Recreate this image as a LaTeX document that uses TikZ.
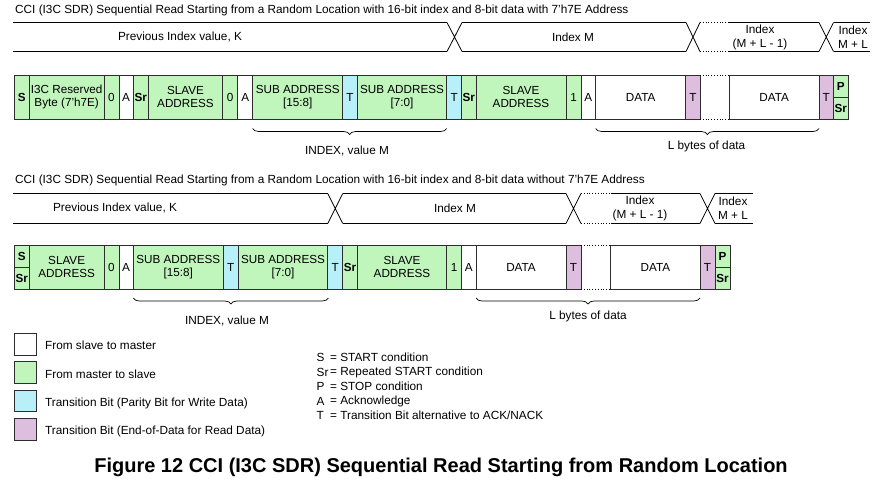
\documentclass[tikz,border=0pt]{standalone}
\usepackage{fontspec}
\setmainfont{Liberation Sans}
\usetikzlibrary{decorations.pathreplacing}
\definecolor{mgreen}{RGB}{192,245,188}
\definecolor{tcyan}{RGB}{183,240,248}
\definecolor{tpink}{RGB}{222,190,222}
\definecolor{edge}{RGB}{45,45,45}
\tikzset{
  cellline/.style={draw=edge,line width=0.8pt},
  celltext/.style={inner sep=0pt,align=center,font=\fontsize{11.7}{13.3}\selectfont},
  boldtext/.style={celltext,font=\fontsize{11.7}{13.3}\selectfont\bfseries},
  barline/.style={draw=black,line width=0.8pt},
  bardot/.style={draw=black,line width=0.8pt,dotted},
  bartext/.style={inner sep=0pt,align=center,font=\fontsize{11.8}{14.2}\selectfont},
  plain/.style={inner sep=0pt,font=\fontsize{11.8}{13}\selectfont},
  bracestyle/.style={draw=black,line width=0.7pt,decorate,decoration={brace,amplitude=6pt}},
  legbox/.style={draw=edge,line width=0.8pt},
}
\newcommand\pcell[7]{%
  \draw[cellline,fill=#6] (#2,#4) rectangle (#3,#5);
  \node[celltext] (#1) at ({(#2+#3)/2},{(#4+#5)/2}) {#7};}
\newcommand\bcell[7]{%
  \draw[cellline,fill=#6] (#2,#4) rectangle (#3,#5);
  \node[boldtext] (#1) at ({(#2+#3)/2},{(#4+#5)/2}) {#7};}
\newcommand\xcross[4]{%
  \draw[barline] (#1,#3) -- (#2,#4) (#1,#4) -- (#2,#3);}
\newcommand\bseg[5]{%
  \draw[#5] (#1,#3) -- (#2,#3) (#1,#4) -- (#2,#4);}
\begin{document}
\begin{tikzpicture}[x=1pt,y=-1pt]
\fill[white] (0,0) rectangle (886,488);
\useasboundingbox (0,0) rectangle (886,488);

% ---------- first diagram ----------
\node[plain,anchor=west] (title1) at (15,10) {CCI (I3C SDR) Sequential Read Starting from a Random Location with 16-bit index and 8-bit data with 7'h7E Address};

\bseg{13}{447}{22.5}{51.5}{barline}
\xcross{447}{462}{22.5}{51.5}
\bseg{462}{686}{22.5}{51.5}{barline}
\xcross{686}{700}{22.5}{51.5}
\bseg{700}{729}{22.5}{51.5}{bardot}
\bseg{729}{819}{22.5}{51.5}{barline}
\xcross{819}{833.5}{22.5}{51.5}
\bseg{833.5}{870}{22.5}{51.5}{barline}
\node[bartext] (k1) at (180,37) {Previous Index value, K};
\node[bartext] (m1) at (573,37) {Index M};
\node[bartext] (ml1) at (760,37.5) {Index\\(M + L - 1)};
\node[bartext] (mlp1) at (853,37.5) {Index\\M + L};

\bcell{s1}{14.3}{29.3}{75}{119.3}{mgreen}{S}
\pcell{rsv1}{29.3}{104}{75}{119.3}{mgreen}{I3C Reserved\\Byte (7'h7E)}
\pcell{z1a}{104}{119}{75}{119.3}{mgreen}{0}
\pcell{a1a}{119}{133.3}{75}{119.3}{white}{A}
\bcell{sr1a}{133.3}{148.3}{75}{119.3}{mgreen}{Sr}
\pcell{sa1a}{148.3}{222.7}{75}{119.3}{mgreen}{SLAVE\\ADDRESS}
\pcell{z1b}{222.7}{237.7}{75}{119.3}{mgreen}{0}
\pcell{a1b}{237.7}{252.7}{75}{119.3}{white}{A}
\pcell{sub1a}{252.7}{342.7}{75}{119.3}{mgreen}{SUB ADDRESS\\{}[15:8]}
\pcell{t1a}{342.7}{357.3}{75}{119.3}{tcyan}{T}
\pcell{sub1b}{357.3}{446.7}{75}{119.3}{mgreen}{SUB ADDRESS\\{}[7:0]}
\pcell{t1b}{446.7}{461.7}{75}{119.3}{tcyan}{T}
\bcell{sr1b}{461.7}{476}{75}{119.3}{mgreen}{Sr}
\pcell{sa1b}{476}{566}{75}{119.3}{mgreen}{SLAVE\\ADDRESS}
\pcell{one1}{566}{581}{75}{119.3}{mgreen}{1}
\pcell{a1c}{581}{595.7}{75}{119.3}{white}{A}
\pcell{d1a}{595.7}{685.7}{75}{119.3}{white}{DATA}
\pcell{t1c}{685.7}{700}{75}{119.3}{tpink}{T}
\draw[bardot] (700,75) -- (729.3,75) (700,119.3) -- (729.3,119.3);
\pcell{d1b}{729.3}{819}{75}{119.3}{white}{DATA}
\pcell{t1d}{819}{833.3}{75}{119.3}{tpink}{T}
\bcell{p1}{833.3}{848.3}{75}{97.2}{mgreen}{P}
\bcell{sr1c}{833.3}{848.3}{97.2}{119.3}{mgreen}{Sr}

\draw[bracestyle] (446.7,128.5) -- (252.7,128.5);
\node[plain] (idx1) at (347,150.5) {INDEX, value M};
\draw[bracestyle] (819,128.5) -- (595.7,128.5);
\node[plain] (lb1) at (706.5,146) {L bytes of data};

% ---------- second diagram ----------
\node[plain,anchor=west] (title2) at (15,180) {CCI (I3C SDR) Sequential Read Starting from a Random Location with 16-bit index and 8-bit data without 7'h7E Address};

\bseg{13}{327.7}{193.5}{223.5}{barline}
\xcross{327.7}{342.7}{193.5}{223.5}
\bseg{342.7}{566}{193.5}{223.5}{barline}
\xcross{566}{581}{193.5}{223.5}
\bseg{581}{610.7}{193.5}{223.5}{bardot}
\bseg{610.7}{700}{193.5}{223.5}{barline}
\xcross{700}{715}{193.5}{223.5}
\bseg{715}{753}{193.5}{223.5}{barline}
\node[bartext] (k2) at (115,208) {Previous Index value, K};
\node[bartext] (m2) at (455,208) {Index M};
\node[bartext] (ml2) at (640,208.5) {Index\\(M + L - 1)};
\node[bartext] (mlp2) at (733,208.5) {Index\\M + L};

\bcell{s2}{14.3}{29.3}{245}{267}{mgreen}{S}
\bcell{sr2a}{14.3}{29.3}{267}{289.3}{mgreen}{Sr}
\pcell{sa2a}{29.3}{104}{245}{289.3}{mgreen}{SLAVE\\ADDRESS}
\pcell{z2}{104}{119}{245}{289.3}{mgreen}{0}
\pcell{a2a}{119}{133.3}{245}{289.3}{white}{A}
\pcell{sub2a}{133.3}{223.3}{245}{289.3}{mgreen}{SUB ADDRESS\\{}[15:8]}
\pcell{t2a}{223.3}{238.3}{245}{289.3}{tcyan}{T}
\pcell{sub2b}{238.3}{327.7}{245}{289.3}{mgreen}{SUB ADDRESS\\{}[7:0]}
\pcell{t2b}{327.7}{342.7}{245}{289.3}{tcyan}{T}
\bcell{sr2b}{342.7}{357.3}{245}{289.3}{mgreen}{Sr}
\pcell{sa2b}{357.3}{446.7}{245}{289.3}{mgreen}{SLAVE\\ADDRESS}
\pcell{one2}{446.7}{461.7}{245}{289.3}{mgreen}{1}
\pcell{a2b}{461.7}{476}{245}{289.3}{white}{A}
\pcell{d2a}{476}{566}{245}{289.3}{white}{DATA}
\pcell{t2c}{566}{581}{245}{289.3}{tpink}{T}
\draw[bardot] (581,245) -- (610.7,245) (581,289.3) -- (610.7,289.3);
\pcell{d2b}{610.7}{700}{245}{289.3}{white}{DATA}
\pcell{t2d}{700}{715}{245}{289.3}{tpink}{T}
\bcell{p2}{715}{730}{245}{267}{mgreen}{P}
\bcell{sr2c}{715}{730}{267}{289.3}{mgreen}{Sr}

\draw[bracestyle] (328.3,298) -- (133.3,298);
\node[plain] (idx2) at (227,320.5) {INDEX, value M};
\draw[bracestyle] (700,298) -- (476,298);
\node[plain] (lb2) at (588,316) {L bytes of data};

% ---------- legend ----------
\draw[legbox,fill=white] (14,333.3) rectangle (36,355);
\node[plain,anchor=west] (lg1) at (45,345) {From slave to master};
\draw[legbox,fill=mgreen] (14,361.7) rectangle (36,383.3);
\node[plain,anchor=west] (lg2) at (45,374) {From master to slave};
\draw[legbox,fill=tcyan] (14,390) rectangle (36,411.7);
\node[plain,anchor=west] (lg3) at (45,403) {Transition Bit (Parity Bit for Write Data)};
\draw[legbox,fill=tpink] (14,418.3) rectangle (36,440);
\node[plain,anchor=west] (lg4) at (45,431.5) {Transition Bit (End-of-Data for Read Data)};

\node[plain,anchor=west] (ks) at (316.5,357.5) {S};
\node[plain,anchor=west] (ksr) at (316.5,372) {Sr};
\node[plain,anchor=west] (kp) at (316.5,386.5) {P};
\node[plain,anchor=west] (ka) at (316.5,401) {A};
\node[plain,anchor=west] (kt) at (316.5,415.5) {T};
\node[plain,anchor=west] (vs) at (330,357.5) {= START condition};
\node[plain,anchor=west] (vsr) at (330,372) {= Repeated START condition};
\node[plain,anchor=west] (vp) at (330,386.5) {= STOP condition};
\node[plain,anchor=west] (va) at (330,401) {= Acknowledge};
\node[plain,anchor=west] (vt) at (330,415.5) {= Transition Bit alternative to ACK/NACK};

\node[inner sep=0pt,font=\fontsize{20}{22}\selectfont\bfseries] (cap) at (441,467) {Figure 12 CCI (I3C SDR) Sequential Read Starting from Random Location};
\end{tikzpicture}
\end{document}
